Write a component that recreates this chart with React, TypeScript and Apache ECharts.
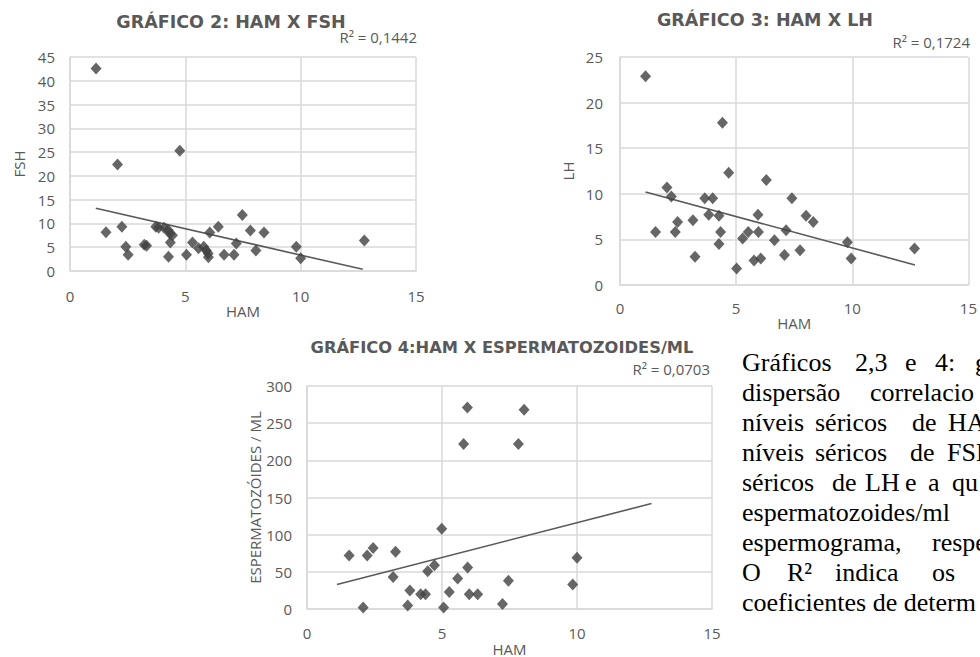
import React, { useEffect, useRef } from "react";
import * as echarts from "echarts";

// ---------- DATA ----------
// Gráfico 2: HAM (x) x FSH (y)
const fshPoints: [number, number][] = [
  [1.13, 42.6], [1.56, 8.15], [2.06, 22.4], [2.25, 9.3], [2.42, 5.1], [2.52, 3.4],
  [3.22, 5.5], [3.32, 5.3], [3.72, 9.3], [3.84, 9.1], [4.08, 9.1], [4.25, 8.6],
  [4.33, 7.9], [4.44, 7.5], [4.35, 6.0], [4.27, 3.0], [4.76, 25.3], [5.05, 3.4],
  [5.31, 6.0], [5.57, 4.8], [5.8, 5.1], [5.91, 4.3], [5.99, 3.7], [6.0, 2.9],
  [6.06, 8.1], [6.43, 9.3], [6.68, 3.4], [7.11, 3.4], [7.21, 5.8], [7.47, 11.8],
  [7.82, 8.5], [8.06, 4.3], [8.41, 8.1], [9.81, 5.1], [10.0, 2.7], [12.76, 6.4],
];
const fshTrend: [number, number][] = [[1.12, 13.2], [12.69, 0.35]];

// Gráfico 3: HAM (x) x LH (y)
const lhPoints: [number, number][] = [
  [1.1, 22.9], [1.53, 5.8], [2.02, 10.7], [2.21, 9.7], [2.38, 5.8], [2.48, 6.9],
  [3.14, 7.1], [3.23, 3.1], [3.65, 9.5], [3.82, 7.7], [3.99, 9.5], [4.26, 7.6],
  [4.26, 4.5], [4.33, 5.8], [4.41, 17.8], [4.68, 12.3], [5.02, 1.8], [5.28, 5.1],
  [5.52, 5.8], [5.77, 2.7], [5.94, 7.7], [5.96, 5.8], [6.06, 2.9], [6.3, 11.5],
  [6.65, 4.9], [7.08, 3.3], [7.15, 6.0], [7.4, 9.5], [7.75, 3.8], [8.01, 7.6],
  [8.32, 6.9], [9.79, 4.7], [9.95, 2.9], [12.68, 4.0],
];
const lhTrend: [number, number][] = [[1.1, 10.2], [12.7, 2.2]];

// Gráfico 4: HAM (x) x espermatozoides/ml (y)
const spermPoints: [number, number][] = [
  [1.56, 72], [2.08, 2], [2.23, 72], [2.45, 82], [3.19, 43], [3.28, 77],
  [3.73, 5], [3.81, 25], [4.21, 20], [4.39, 20], [4.47, 51], [4.72, 59],
  [4.99, 108], [5.06, 2], [5.27, 23], [5.58, 41], [5.8, 222], [5.94, 271],
  [5.95, 56], [6.01, 20], [6.32, 20], [7.24, 7], [7.46, 38], [7.83, 222],
  [8.04, 268], [9.84, 33], [10.0, 69],
];
const spermTrend: [number, number][] = [[1.11, 33], [12.76, 142]];

const chartTitles = [
  "GRÁFICO 2: HAM X FSH",
  "GRÁFICO 3: HAM X LH",
  "GRÁFICO 4:HAM X ESPERMATOZOIDES/ML",
];
const r2Labels = ["R² = 0,1442", "R² = 0,1724", "R² = 0,0703"];
const xAxisName = "HAM";
const yAxisNames = ["FSH", "LH", "ESPERMATOZÓIDES / ML"];
const xRange = [0, 15, 5];
const yRanges = [
  [0, 45, 5],
  [0, 25, 5],
  [0, 300, 50],
];

// caption as visible in the reference (cut off at the right edge of the page)
const captionLines: string[][] = [
  ["Gráficos", "2,3", "e", "4:", "g"],
  ["dispersão", "correlacio"],
  ["níveis", "séricos", "de", "HA"],
  ["níveis", "séricos", "de", "FSH"],
  ["séricos", "de", "LH", "e", "a", "qu"],
  ["espermatozoides/ml"],
  ["espermograma,", "respe"],
  ["O", "R²", "indica", "os"],
  ["coeficientes de determ"],
];

// ---------- LAYOUT ----------
const grids = [
  { left: 70, top: 57, width: 346, height: 214 },
  { left: 620, top: 57, width: 353, height: 228 },
  { left: 307, top: 386, width: 405, height: 233 },
];
const xNameGaps = [31, 30, 24];
const xLabelMargins = [17, 15, 16];
const yNameGaps = [44, 45, 42];
const yLabelMargins = [15, 17, 15];
const titlePos = [
  [231, 22],
  [765, 20],
  [502, 347],
];
const titleSizes = [17.5, 17.5, 16.3];
const r2Pos = [
  [417, 37],
  [970, 42],
  [710, 369],
];
const captionX: number[][] = [
  [742, 855, 905, 935, 975],
  [742, 870],
  [742, 815, 912, 948],
  [742, 815, 910, 947],
  [742, 832, 865, 905, 928, 952],
  [742],
  [742, 932],
  [742, 787, 835, 932],
  [742],
];
const captionBaseline0 = 371;
const captionLineStep = 30;

const GRAY = "#595959";
const GRID = "#d9d9d9";
const MARK = "#404040";

export default function App() {
  const ref = useRef<HTMLDivElement>(null);

  useEffect(() => {
    if (!ref.current) return;
    const chart = echarts.init(ref.current, undefined, { renderer: "svg" });

    const pointSets = [fshPoints, lhPoints, spermPoints];
    const trends = [fshTrend, lhTrend, spermTrend];

    const xAxis = grids.map((_, i) => ({
      type: "value",
      gridIndex: i,
      min: xRange[0],
      max: xRange[1],
      interval: xRange[2],
      name: xAxisName,
      nameLocation: "middle",
      nameGap: xNameGaps[i],
      nameTextStyle: { color: GRAY, fontSize: 15, fontFamily: "Open Sans" },
      axisLine: { show: true, lineStyle: { color: GRID, width: 1.5 } },
      axisTick: { show: false },
      splitLine: { show: true, lineStyle: { color: GRID, width: 1.5 } },
      axisLabel: { color: GRAY, fontSize: 15, fontFamily: "Open Sans", margin: xLabelMargins[i] },
    }));

    const yAxis = grids.map((_, i) => ({
      type: "value",
      gridIndex: i,
      min: yRanges[i][0],
      max: yRanges[i][1],
      interval: yRanges[i][2],
      name: yAxisNames[i],
      nameLocation: "middle",
      nameGap: yNameGaps[i],
      nameTextStyle: { color: GRAY, fontSize: 15, fontFamily: "Open Sans" },
      axisLine: { show: true, lineStyle: { color: GRID, width: 1.5 } },
      axisTick: { show: false },
      splitLine: { show: true, lineStyle: { color: GRID, width: 1.5 } },
      axisLabel: { color: GRAY, fontSize: 15, fontFamily: "Open Sans", margin: yLabelMargins[i] },
    }));

    const series: any[] = [];
    grids.forEach((_, i) => {
      series.push({
        type: "line",
        xAxisIndex: i,
        yAxisIndex: i,
        data: trends[i],
        showSymbol: false,
        symbol: "none",
        lineStyle: { color: GRAY, width: 1.6 },
        z: 2,
      });
      series.push({
        type: "scatter",
        xAxisIndex: i,
        yAxisIndex: i,
        data: pointSets[i],
        symbol: "diamond",
        symbolSize: [11, 12],
        itemStyle: { color: MARK },
        z: 3,
      });
    });

    const graphics: any[] = [];
    chartTitles.forEach((t, i) => {
      graphics.push({
        type: "text",
        x: titlePos[i][0],
        y: titlePos[i][1],
        style: {
          text: t,
          fill: GRAY,
          font: `bold ${titleSizes[i]}px 'DejaVu Sans'`,
          align: "center",
          verticalAlign: "middle",
        },
      });
    });
    r2Labels.forEach((t, i) => {
      graphics.push({
        type: "text",
        x: r2Pos[i][0],
        y: r2Pos[i][1],
        style: {
          text: t,
          fill: GRAY,
          font: "15px 'Open Sans'",
          align: "right",
          verticalAlign: "middle",
        },
      });
    });
    captionLines.forEach((words, li) => {
      const baseline = captionBaseline0 + li * captionLineStep;
      words.forEach((w, wi) => {
        graphics.push({
          type: "text",
          x: captionX[li][wi],
          y: baseline - 8.5,
          style: {
            text: w,
            fill: "#000000",
            font: "26px 'Liberation Serif'",
            align: "left",
            verticalAlign: "middle",
          },
        });
      });
    });

    chart.setOption({
      animation: false,
      backgroundColor: "#ffffff",
      grid: grids.map((g) => ({ ...g, containLabel: false })),
      xAxis,
      yAxis,
      series,
      graphic: graphics,
    } as any);

    return () => chart.dispose();
  }, []);

  return (
    <div
      ref={ref}
      style={{ position: "absolute", left: 0, top: 0, width: 980, height: 657, overflow: "hidden" }}
    />
  );
}
